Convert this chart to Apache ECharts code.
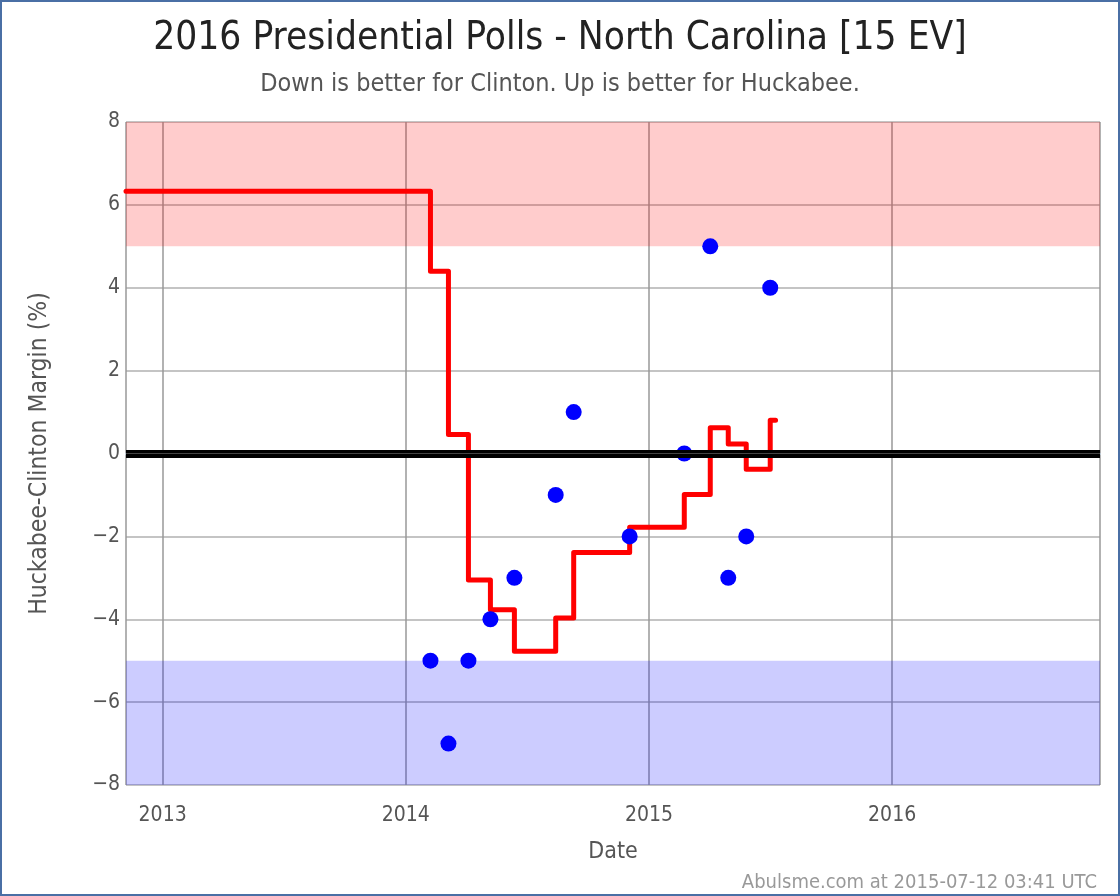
<!DOCTYPE html>
<html>
<head>
<meta charset="utf-8">
<script src="https://cdn.jsdelivr.net/npm/echarts@6/dist/echarts.min.js"></script>
<style>
html,body{margin:0;padding:0;background:#fff;}
#chart{width:1120px;height:896px;}
</style>
</head>
<body>
<div id="chart"></div>
<script>
// Poll dates and Huckabee-Clinton margins (%)
var pollDates = ['2014-02-07','2014-03-06','2014-04-05','2014-05-08','2014-06-13','2014-08-14','2014-09-10','2014-12-03','2015-02-23','2015-04-03','2015-04-30','2015-05-27','2015-07-02'];
var pollMargins = [-5,-7,-5,-4,-3,-1,1,-2,0,5,-3,-2,4];

// Running average (step line): change dates and values
var avgDates = ['2012-11-07','2014-02-07','2014-03-06','2014-04-05','2014-05-08','2014-06-13','2014-08-14','2014-09-10','2014-12-03','2015-02-23','2015-04-03','2015-04-30','2015-05-27','2015-07-02','2015-07-10'];
var avgValues = [6.33,4.40,0.46,-3.05,-3.77,-4.77,-3.97,-2.39,-1.78,-0.99,0.62,0.23,-0.38,0.80,0.80];

var xMin = '2012-11-07';
var xMax = '2016-11-08';
var yTicks = [-8,-6,-4,-2,0,2,4,6,8];

var FONT = "'DejaVu Sans Condensed','DejaVu Sans',sans-serif";

var pollData = pollDates.map(function(d,i){return [d, pollMargins[i]];});
var avgData = avgDates.map(function(d,i){return [d, avgValues[i]];});

var chart = echarts.init(document.getElementById('chart'), null, {renderer:'canvas'});
var option = {
  backgroundColor: '#ffffff',
  animation: false,
  title: [{
    text: '2016 Presidential Polls - North Carolina [15 EV]',
    left: 'center', top: 14,
    textStyle: {fontFamily: FONT, fontSize: 38.5, fontWeight: 'normal', color: '#222'}
  },{
    text: 'Down is better for Clinton. Up is better for Huckabee.',
    left: 'center', top: 67,
    textStyle: {fontFamily: FONT, fontSize: 25, fontWeight: 'normal', color: '#555'}
  },{
    text: 'Abulsme.com at 2015-07-12 03:41 UTC',
    right: 18, top: 868,
    textStyle: {fontFamily: FONT, fontSize: 20, fontWeight: 'normal', color: '#999'}
  }],
  grid: {left: 126, right: 20, top: 122, bottom: 111, containLabel: false},
  xAxis: {
    type: 'time',
    min: xMin, max: xMax,
    minInterval: 365*86400000,
    maxInterval: 366*86400000,
    name: 'Date', nameLocation: 'middle', nameGap: 56,
    nameTextStyle: {fontFamily: FONT, fontSize: 23, color: '#555'},
    axisLine: {show: true, lineStyle: {color: '#c5d3e2', width: 2}},
    axisTick: {show: false},
    axisLabel: {fontFamily: FONT, fontSize: 21, color: '#555', margin: 20,
      formatter: function(v){ return new Date(v).getFullYear() + ''; }},
    splitLine: {show: true, lineStyle: {color: '#999', width: 1.5}}
  },
  yAxis: {
    type: 'value', min: -8, max: 8, interval: 2,
    name: 'Huckabee-Clinton Margin (%)', nameLocation: 'middle', nameGap: 74,
    nameTextStyle: {fontFamily: FONT, fontSize: 24.5, color: '#555'},
    axisLine: {show: false}, axisTick: {show: false},
    axisLabel: {fontFamily: FONT, fontSize: 21, color: '#555', margin: 6,
      formatter: function(v){ return (v < 0 ? '\u2212' + (-v) : '' + v); }},
    splitLine: {show: true, lineStyle: {color: '#b0b0b0', width: 1.5}}
  },
  graphic: [{
    type: 'rect', silent: true, z: 100,
    shape: {x: 1, y: 1, width: 1118, height: 894},
    style: {fill: 'none', stroke: '#4a6fa5', lineWidth: 2}
  }],
  series: [{
    type: 'line', name: 'bands', data: [], silent: true,
    markArea: {silent: true, itemStyle: {opacity: 1},
      data: [
        [{yAxis: 5, itemStyle: {color: 'rgba(255,0,0,0.2)'}}, {yAxis: 8}],
        [{yAxis: -8, itemStyle: {color: 'rgba(0,0,255,0.2)'}}, {yAxis: -5}]
      ]},
    markLine: {silent: true, symbol: 'none', label: {show: false},
      data: [
        {yAxis: 0, lineStyle: {color: '#000', width: 8, type: 'solid'}},
        {yAxis: 0, lineStyle: {color: '#444', width: 1, type: 'solid'}}
      ]}
  },{
    type: 'line', name: 'avg', data: avgData, step: 'end',
    showSymbol: false, symbol: 'none', z: 3,
    lineStyle: {color: '#ff0000', width: 5, cap: 'round', join: 'round'}
  },{
    type: 'scatter', name: 'polls', data: pollData, z: 4,
    symbol: 'circle', symbolSize: 16,
    itemStyle: {color: '#0000ff', opacity: 1}
  }]
};
chart.setOption(option);
</script>
</body>
</html>
